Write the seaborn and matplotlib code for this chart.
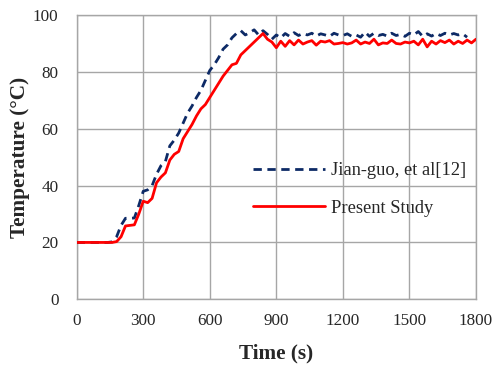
import matplotlib
matplotlib.use("Agg")
import matplotlib.pyplot as plt
import seaborn as sns
import pandas as pd

time_present = list(range(0, 1801, 20))
temp_present = [20, 20, 20, 20, 20, 20, 20, 20, 20, 20.3,
                22, 25.8, 26, 26.2, 30, 34.5, 34, 35.5, 41, 43,
                44.5, 49, 51, 52, 56.5, 59, 61.5, 64.5, 67, 68.5,
                71, 73.5, 76, 78.5, 80.5, 82.5, 83, 86, 87.5, 89,
                90.5, 92, 93.5, 91.5, 90.5, 88.5, 90.8, 89, 91, 89.5,
                91.2, 89.8, 90.5, 91, 89.4, 90.8, 90.5, 91, 89.8, 90,
                90.3, 89.8, 90.2, 91.2, 89.8, 90.5, 90, 91.5, 89.5, 90.2,
                90, 91.2, 90, 89.8, 90.5, 90.2, 90.8, 89.5, 91.5, 88.8,
                90.8, 89.8, 91, 90.3, 91.2, 89.8, 90.8, 90, 91.2, 90.2,
                91.5]

time_jian = list(range(0, 1761, 20))
temp_jian = [20, 20, 20, 20, 20, 20, 20, 20, 20.2, 22,
             26, 28.5, 28.5, 28.6, 33, 38, 38.5, 40, 44, 47,
             48.5, 54, 56, 58.5, 62, 65.5, 68, 71, 73.5, 77,
             80.5, 82.5, 85, 88, 89.5, 92, 93.5, 94.5, 93, 93.8,
             94.8, 93, 94.5, 93.2, 91.5, 93, 92, 93.5, 92.5, 93.8,
             92.8, 93.5, 93, 93.6, 92.6, 93.4, 93, 92.5, 93.6, 93,
             92.8, 93.4, 92.5, 93, 92.2, 94, 92.5, 93.6, 92.8, 93.2,
             92.6, 93.6, 92.8, 93.2, 92.5, 93.6, 93, 94.2, 92.5, 93.4,
             92.6, 93.5, 92.8, 93.6, 93, 93.5, 93, 93.4, 92.2]

x_ticks = [0, 300, 600, 900, 1200, 1500, 1800]
y_ticks = [0, 20, 40, 60, 80, 100]
label_jian = "Jian-guo, et al[12]"
label_present = "Present Study"

sns.set_style("white")
plt.rcParams['font.family'] = ['Liberation Serif', 'DejaVu Serif']

fig = plt.figure(figsize=(4.96, 3.67), dpi=100)
ax = fig.add_axes([0.1546, 0.1845, 0.805, 0.7745])

df_j = pd.DataFrame({"t": time_jian, "T": temp_jian})
df_p = pd.DataFrame({"t": time_present, "T": temp_present})

sns.lineplot(data=df_j, x="t", y="T", ax=ax, color="#0d2a66", lw=2.0,
             label=label_jian, zorder=3)
ax.lines[-1].set_dashes([3, 2])
sns.lineplot(data=df_p, x="t", y="T", ax=ax, color="#ff0000", lw=2.0,
             label=label_present, zorder=4)

ax.set_xlim(0, 1800)
ax.set_ylim(0, 100)
ax.set_xticks(x_ticks)
ax.set_yticks(y_ticks)
ax.grid(True, color="#a6a6a6", lw=1.0)
for s in ax.spines.values():
    s.set_color("#a6a6a6")
    s.set_linewidth(1.0)
ax.tick_params(axis="both", length=0, labelsize=12.3)
ax.tick_params(axis="x", pad=10)
ax.tick_params(axis="y", pad=13)

ax.set_xlabel("Time (s)", fontsize=15.3, fontweight="bold", labelpad=10)
ax.set_ylabel("Temperature (°C)", fontsize=15.3, fontweight="bold", labelpad=2)

leg = ax.legend(loc="center left", bbox_to_anchor=(0.40, 0.386), frameon=False,
                fontsize=13.3, handlelength=3.9, handletextpad=0.3,
                labelspacing=1.1)
for h in leg.get_lines():
    h.set_linewidth(2.0)

fig.savefig("out.png", dpi=100)
